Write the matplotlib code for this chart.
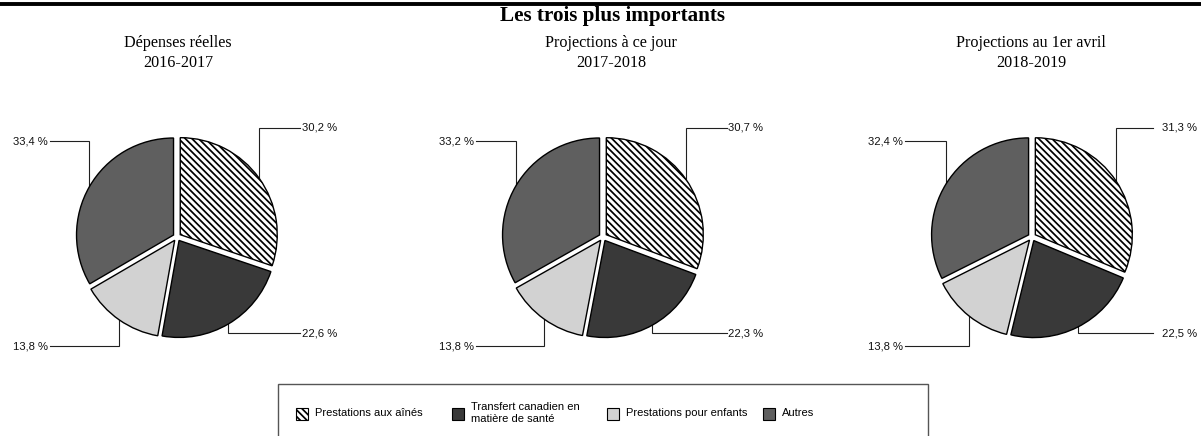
import matplotlib
matplotlib.use("Agg")
import matplotlib.pyplot as plt
from matplotlib.patches import Rectangle
import numpy as np

# ---- data ----
title = "Les trois plus importants"
categories = ["Prestations aux aînés",
              "Transfert canadien en\nmatière de santé",
              "Prestations pour enfants",
              "Autres"]
periods = ["Dépenses réelles\n2016-2017",
           "Projections à ce jour\n2017-2018",
           "Projections au 1er avril\n2018-2019"]
values_2016_2017 = [30.2, 22.6, 13.8, 33.4]
values_2017_2018 = [30.7, 22.3, 13.8, 33.2]
values_2018_2019 = [31.3, 22.5, 13.8, 32.4]
series = [values_2016_2017, values_2017_2018, values_2018_2019]

# ---- style / layout ----
W, H = 1201, 436
SERIF = "Liberation Serif"
SANS = "Liberation Sans"
colors = ["white", "#393939", "#d2d2d2", "#5f5f5f"]
hatches = ["\\\\\\\\\\", "", "", ""]
plt.rcParams["hatch.linewidth"] = 1.25
plt.rcParams["hatch.color"] = "black"

centers_x = [177, 603, 1032]
center_y = 237
R = 97
E = 4
label_dy = [-109, 96, 109, -96]          # label line height rel. to center (image px, down +)
right_line_end = [123, 124, 121]
right_text_x = [125, 125, 130]
left_line_end = -127
left_text_x = -129
subtitle_x = [178, 611, 1031]
lead_color = "#202020"
LABEL_FS = 8.1
LEGEND_FS = 8.0


def Y(y):
    return H - y


fig = plt.figure(figsize=(W / 100, H / 100), dpi=100)
ax = fig.add_axes([0, 0, 1, 1])

for k, vals in enumerate(series):
    cx = centers_x[k]
    wedges, _ = ax.pie(vals, radius=R, center=(cx, Y(center_y)),
                       startangle=90, counterclock=False,
                       explode=[E] * len(vals), colors=colors,
                       wedgeprops=dict(edgecolor="black", linewidth=1.0),
                       frame=True)
    for i, (w, h) in enumerate(zip(wedges, hatches)):
        if h:
            w.set_hatch(h)
        mid = np.deg2rad(0.5 * (w.theta1 + w.theta2))
        wx, wy = w.center
        axp = wx + w.r * np.cos(mid)
        ayp = wy + w.r * np.sin(mid)
        ly = Y(center_y + label_dy[i])
        txt = f"{vals[i]:.1f}".replace(".", ",") + " %"
        if np.cos(mid) >= 0:
            ex = cx + right_line_end[k]
            tx = cx + right_text_x[k]
            ha = "left"
        else:
            ex = cx + left_line_end
            tx = cx + left_text_x
            ha = "right"
        ax.plot([axp, axp, ex], [ayp, ly, ly], color=lead_color, lw=0.8,
                zorder=0.5, solid_joinstyle="miter")
        ax.text(tx, ly, txt, ha=ha, va="center", fontsize=LABEL_FS,
                family=SANS, color="#111111")
    ax.text(subtitle_x[k], Y(53), periods[k], ha="center", va="center",
            fontsize=11.6, family=SERIF, linespacing=1.3)

# title and top rule
ax.plot([0, W], [Y(4.5), Y(4.5)], color="black", lw=2.8,
        solid_capstyle="butt")
ax.text(612, Y(16.5), title, ha="center", va="center", fontsize=15.2,
        fontweight="bold", family=SERIF)

# legend box (extends below the bottom edge)
ax.add_patch(Rectangle((278, Y(445)), 650, 445 - 384, fill=False,
                       edgecolor="#555555", lw=1.0))
leg_x0, leg_step, leg_y, msz = 296, 155.7, 414, 12
for i, cat in enumerate(categories):
    mx = leg_x0 + i * leg_step
    ax.add_patch(Rectangle((mx, Y(leg_y) - msz / 2), msz, msz,
                           facecolor=colors[i], edgecolor="black", lw=0.8,
                           hatch=hatches[i] if hatches[i] else None))
    ax.text(mx + 19, Y(leg_y - 1), cat, ha="left", va="center",
            fontsize=LEGEND_FS, family=SANS, linespacing=1.3)

ax.set_aspect("auto")
ax.set_xlim(0, W)
ax.set_ylim(0, H)
ax.axis("off")

fig.savefig("out.png", dpi=100)
